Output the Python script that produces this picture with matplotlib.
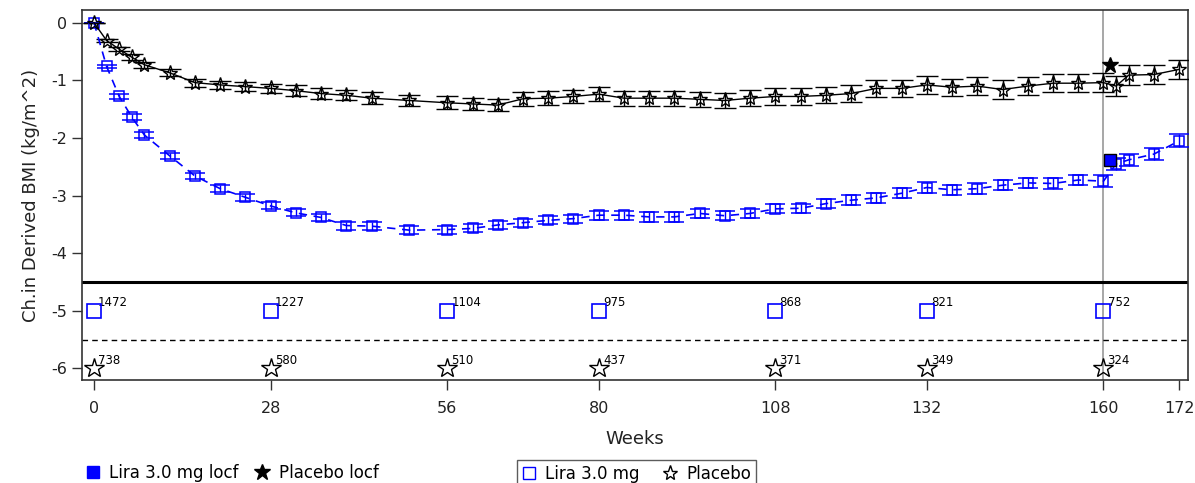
import matplotlib
matplotlib.use("Agg")
import matplotlib.pyplot as plt
from matplotlib.lines import Line2D

plt.rcParams['font.family'] = ['DejaVu Sans']

weeks = [0, 2, 4, 6, 8, 12, 16, 20, 24, 28, 32, 36, 40, 44, 50, 56, 60, 64, 68, 72,
         76, 80, 84, 88, 92, 96, 100, 104, 108, 112, 116, 120, 124, 128, 132, 136,
         140, 144, 148, 152, 156, 160, 162, 164, 168, 172]

lira = [0.00, -0.76, -1.28, -1.64, -1.95, -2.31, -2.66, -2.88, -3.03, -3.18, -3.30,
        -3.38, -3.52, -3.53, -3.60, -3.59, -3.57, -3.51, -3.47, -3.43, -3.40, -3.34,
        -3.34, -3.37, -3.37, -3.31, -3.35, -3.31, -3.23, -3.22, -3.14, -3.08, -3.04,
        -2.96, -2.86, -2.90, -2.88, -2.82, -2.78, -2.79, -2.73, -2.75, -2.45, -2.38,
        -2.28, -2.05]
lira_se = [0.00, 0.03, 0.04, 0.05, 0.05, 0.05, 0.06, 0.06, 0.06, 0.06, 0.06, 0.06,
           0.07, 0.07, 0.07, 0.07, 0.07, 0.07, 0.07, 0.07, 0.07, 0.08, 0.08, 0.08,
           0.08, 0.08, 0.08, 0.08, 0.08, 0.08, 0.08, 0.09, 0.09, 0.09, 0.09, 0.09,
           0.09, 0.09, 0.09, 0.09, 0.09, 0.10, 0.10, 0.10, 0.10, 0.11]

placebo = [0.00, -0.31, -0.46, -0.60, -0.73, -0.87, -1.04, -1.08, -1.11, -1.14, -1.18,
           -1.23, -1.26, -1.31, -1.35, -1.39, -1.41, -1.43, -1.32, -1.31, -1.28, -1.24,
           -1.31, -1.31, -1.31, -1.33, -1.35, -1.31, -1.28, -1.28, -1.26, -1.23, -1.14,
           -1.14, -1.08, -1.12, -1.10, -1.16, -1.10, -1.05, -1.05, -1.04, -1.10, -0.91,
           -0.90, -0.81]
placebo_se = [0.00, 0.03, 0.04, 0.05, 0.05, 0.06, 0.07, 0.07, 0.08, 0.08, 0.09, 0.09,
              0.09, 0.10, 0.10, 0.11, 0.11, 0.11, 0.12, 0.12, 0.12, 0.12, 0.13, 0.13,
              0.13, 0.13, 0.13, 0.14, 0.14, 0.14, 0.14, 0.15, 0.15, 0.15, 0.15, 0.15,
              0.16, 0.16, 0.16, 0.16, 0.16, 0.17, 0.17, 0.17, 0.17, 0.17]

locf_week = 161
lira_locf = -2.38
placebo_locf = -0.73

risk_weeks = [0, 28, 56, 80, 108, 132, 160]
lira_n = [1472, 1227, 1104, 975, 868, 821, 752]
placebo_n = [738, 580, 510, 437, 371, 349, 324]
lira_row = -5
placebo_row = -6

xticks = [0, 28, 56, 80, 108, 132, 160, 172]
yticks = [0, -1, -2, -3, -4, -5, -6]

W, H = 1195, 483
fig = plt.figure(figsize=(W / 100, H / 100), dpi=100)
ax = fig.add_axes([82 / W, 1 - 380 / H, (1188 - 82) / W, (380 - 10) / H])

blue = '#0000ff'
ax.axvline(160, color='#a0a0a0', lw=1.3, zorder=1)
ax.axhline(-4.5, color='black', lw=2.2, zorder=2)
ax.axhline(-5.5, color='black', lw=1.0, ls=(0, (4, 3)), zorder=2)

ax.errorbar(weeks, lira, yerr=lira_se, color=blue, ls=(0, (5, 4)), lw=1.2,
            marker='s', ms=7.5, mfc='none', mec=blue, mew=1.1, ecolor=blue,
            elinewidth=1.0, capsize=7, capthick=1.0, zorder=4)
ax.errorbar(weeks, placebo, yerr=placebo_se, color='black', ls='-', lw=1.0,
            marker='*', ms=11, mfc='none', mec='black', mew=1.0, ecolor='black',
            elinewidth=1.0, capsize=8, capthick=1.0, zorder=4)

ax.plot([locf_week], [lira_locf], marker='s', ms=8, color='black', mfc=blue,
        mec='black', ls='none', zorder=5)
ax.plot([locf_week], [placebo_locf], marker='*', ms=12, color='black', ls='none', zorder=5)

ax.plot(risk_weeks, [lira_row] * len(risk_weeks), marker='s', ms=10, mfc='none',
        mec=blue, mew=1.2, ls='none', zorder=4)
ax.plot(risk_weeks, [placebo_row] * len(risk_weeks), marker='*', ms=15, mfc='none',
        mec='black', mew=1.0, ls='none', zorder=4)
for w, n in zip(risk_weeks, lira_n):
    ax.annotate(str(n), (w, lira_row), xytext=(3, 1), textcoords='offset points',
                fontsize=8.5, ha='left', va='bottom')
for w, n in zip(risk_weeks, placebo_n):
    ax.annotate(str(n), (w, placebo_row), xytext=(3, 1), textcoords='offset points',
                fontsize=8.5, ha='left', va='bottom')

ax.set_xlim(-1.9, 173.4)
ax.set_ylim(-6.2, 0.22)
ax.set_xticks(xticks)
ax.set_yticks(yticks)
ax.set_xticklabels([str(t) for t in xticks])
ax.set_yticklabels([str(t) for t in yticks])
ax.tick_params(axis='both', direction='out', length=7, width=1.0, colors='#333333',
               labelsize=11.5, labelcolor='#222222')
ax.tick_params(axis='x', pad=8)
for s in ax.spines.values():
    s.set_color('#333333')
    s.set_linewidth(1.2)

ax.set_ylabel('Ch.in Derived BMI (kg/m^2)', fontsize=13, labelpad=8, color='#222222')
ax.set_xlabel('Weeks', fontsize=13, labelpad=10, color='#222222')

h1 = Line2D([], [], marker='s', ms=9, color=blue, ls='none')
h2 = Line2D([], [], marker='*', ms=12, color='black', ls='none')
fig.legend([h1, h2], ['Lira 3.0 mg locf', 'Placebo locf'], loc='center left',
           bbox_to_anchor=(86 / W, 1 - 473 / H), ncol=2, frameon=False, fontsize=12,
           handlelength=0.8, handletextpad=0.6, columnspacing=1.0, borderpad=0,
           borderaxespad=0)

h3 = Line2D([], [], marker='s', ms=8, mfc='none', mec=blue, ls='none')
h4 = Line2D([], [], marker='*', ms=11, mfc='none', mec='black', ls='none')
leg = fig.legend([h3, h4], ['Lira 3.0 mg', 'Placebo'], loc='upper left',
                 bbox_to_anchor=(517 / W, 1 - 460 / H), ncol=2, frameon=True,
                 fontsize=12, handlelength=0.8, handletextpad=0.6, columnspacing=1.4,
                 borderpad=0.3, borderaxespad=0, fancybox=False, edgecolor='#333333')
leg.get_frame().set_linewidth(1.0)

fig.savefig('out.png', dpi=100)
